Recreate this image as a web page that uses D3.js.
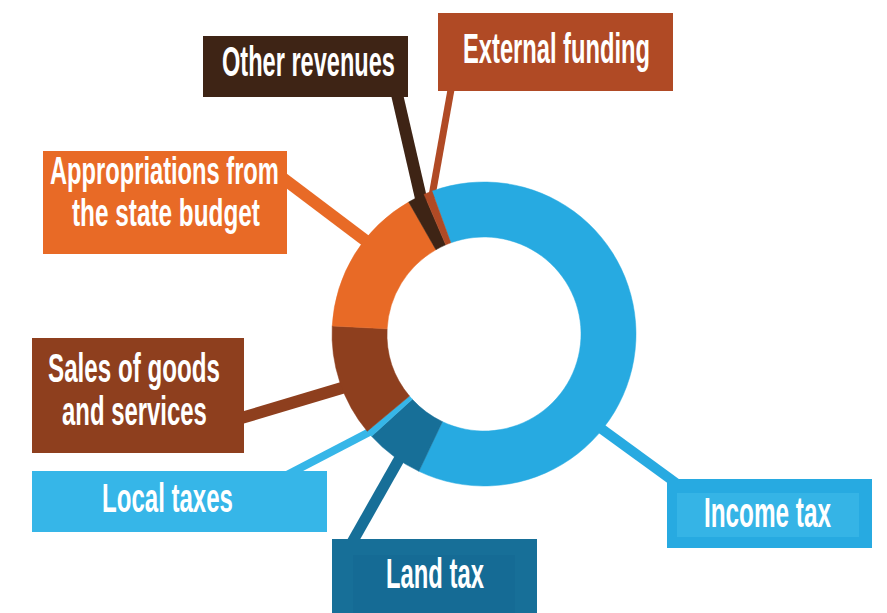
<!DOCTYPE html>
<html>
<head>
<meta charset="utf-8">
<script src="https://cdn.jsdelivr.net/npm/d3@7"></script>
<style>
    body{margin:0;background:#fff;}
    svg{display:block;}
</style>
</head>
<body>
<svg id="chart" width="887" height="613"></svg>
<script>
// data (share of revenues, %)
const categories=["Income tax","Land tax","Local taxes","Sales of goods and services","Appropriations from the state budget","Other revenues","External funding"];
const shares=[62.6,6.2,0.7,11.9,15.9,1.8,0.9];
const label_lines=[["Income tax"],["Land tax"],["Local taxes"],["Sales of goods","and services"],["Appropriations from","the state budget"],["Other revenues"],["External funding"]];

// colors
const slice_colors=["#27aae1","#176f98","#36b6e8","#8e3f1e","#e86a26","#3e2415","#b04a25"];
const inner_box_colors=["#35b4e6","#156b95",null,null,null,null,null];

// label box layout: box, optional inner rect, text left/width/baseline, leader line
const label_layout=[
    {box:[667,479,205,69],inner:[677,493,182,44],font:43,text:[[704,127,527]],anchor:[680,486],angle:129,lw:10},
    {box:[332,539,205,80],inner:[353,555,162,70],font:43,text:[[386,98,588]],anchor:[350,546],angle:214.3,lw:11},
    {box:[32,471,295,61],inner:null,font:40,text:[[102,131,512]],anchor:[283,477],angle:229,lw:8},
    {box:[32,338,212,115],inner:null,font:40,text:[[48,172,382],[62,145,425]],anchor:[238,419],angle:249,lw:12},
    {box:[43,151,244,103],inner:null,font:39,text:[[50,229,184],[72,188,226]],anchor:[280,176],angle:308.3,lw:12},
    {box:[203,36,205,61],inner:null,font:43,text:[[222,173,76]],anchor:[396,90],angle:334.8,lw:12},
    {box:[438,13,235,78],inner:null,font:42,text:[[463,187,63]],anchor:[452,84],angle:339,lw:7}
];

const svg=d3.select("#chart");
const cx=484, cy=334;
const outer_r=152, inner_r=97;
const deg=Math.PI/180;

const pie=d3.pie()
    .sort(null)
    .value(d=>d)
    .startAngle(-20*deg)
    .endAngle(340*deg);
const arc=d3.arc()
    .innerRadius(inner_r)
    .outerRadius(outer_r);
const arcs=pie(shares);

// leader lines (drawn under the ring)
const leaders=svg.append("g");
label_layout.forEach((l,i)=>{
    const a=l.angle*deg;
    const r=outer_r-6;
    leaders.append("line")
        .attr("x1",l.anchor[0])
        .attr("y1",l.anchor[1])
        .attr("x2",cx+r*Math.sin(a))
        .attr("y2",cy-r*Math.cos(a))
        .attr("stroke",slice_colors[i])
        .attr("stroke-width",l.lw);
});

// donut
const ring=svg.append("g")
    .attr("transform",`translate(${cx},${cy})`);
ring.selectAll("path")
    .data(arcs)
    .join("path")
    .attr("d",arc)
    .attr("fill",(d,i)=>slice_colors[i])
    .attr("stroke",(d,i)=>slice_colors[i])
    .attr("stroke-width",0.5);

// label boxes
const labels=svg.append("g");
label_layout.forEach((l,i)=>{
    const g=labels.append("g");
    g.append("rect")
        .attr("x",l.box[0])
        .attr("y",l.box[1])
        .attr("width",l.box[2])
        .attr("height",l.box[3])
        .attr("fill",slice_colors[i]);
    if(l.inner){
        g.append("rect")
            .attr("x",l.inner[0])
            .attr("y",l.inner[1])
            .attr("width",l.inner[2])
            .attr("height",l.inner[3])
            .attr("fill",inner_box_colors[i]);
    }
    label_lines[i].forEach((line,j)=>{
        const t=l.text[j];
        const txt=g.append("text")
            .attr("x",0)
            .attr("y",0)
            .attr("font-family","'Liberation Sans Narrow','Liberation Sans',Arial,sans-serif")
            .attr("font-weight","bold")
            .attr("font-size",l.font)
            .attr("fill","#fff")
            .text(line);
        // squeeze to the condensed width of the original
        const natural=txt.node().getComputedTextLength();
        txt.attr("transform",`translate(${t[0]},${t[2]}) scale(${t[1]/natural},1)`);
    });
});
</script>
</body>
</html>
